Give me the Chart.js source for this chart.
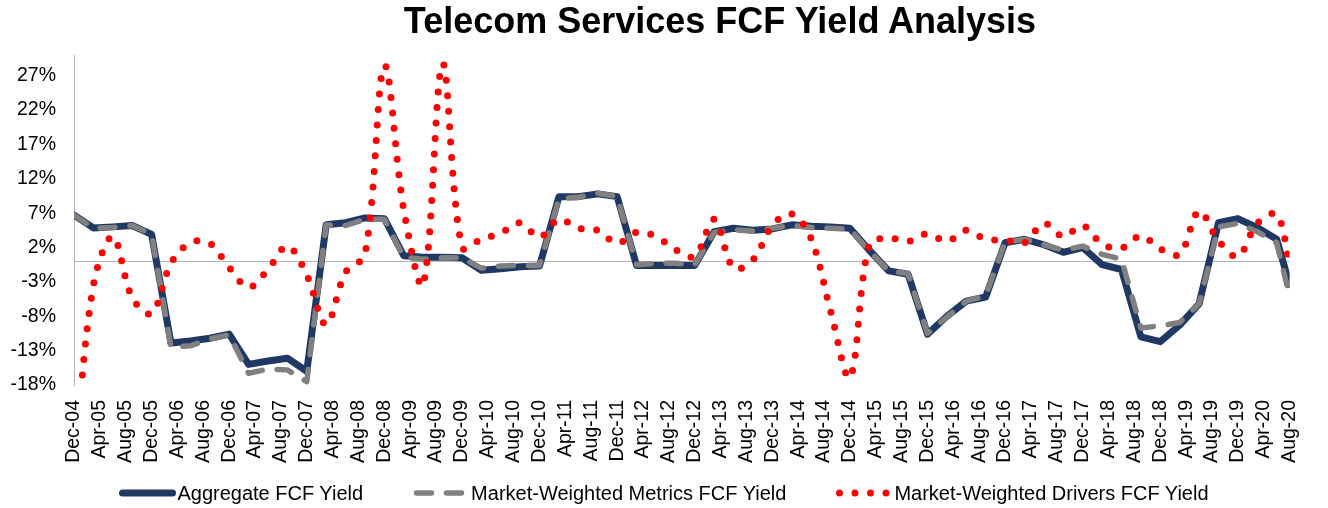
<!DOCTYPE html>
<html>
<head>
<meta charset="utf-8">
<title>Telecom Services FCF Yield Analysis</title>
<script src="https://cdn.jsdelivr.net/npm/chart.js@4.4.1/dist/chart.umd.min.js"></script>
<style>
  body { margin: 0; background: #fff; font-family: "Liberation Sans", Arial, sans-serif; }
  #wrap { position: relative; width: 1328px; height: 508px; }
  #title { position: absolute; top: 3px; left: 116px; width: 1208px; text-align: center; font-weight: bold; font-size: 36px; line-height: 36px; color: #000; }
  #legend { position: absolute; top: 483px; left: 0; width: 1328px; display: flex; justify-content: center; align-items: center; font-size: 20px; line-height: 20px; color: #000; }
  .item { display: flex; align-items: center; margin: 0 25px; white-space: nowrap; }
  .item svg { margin-right: 1px; }
</style>
</head>
<body>
<div id="wrap">
  <canvas id="fcfChart" width="1328" height="508"></canvas>
  <div id="title">Telecom Services FCF Yield Analysis</div>
  <div id="legend"></div>
</div>
<script>
// Quarter-end observation dates (the last one is the latest month available).
const quarters = [
    "Dec-04",
    "Mar-05", "Jun-05", "Sep-05", "Dec-05", "Mar-06", "Jun-06", "Sep-06", "Dec-06",
    "Mar-07", "Jun-07", "Sep-07", "Dec-07", "Mar-08", "Jun-08", "Sep-08", "Dec-08",
    "Mar-09", "Jun-09", "Sep-09", "Dec-09", "Mar-10", "Jun-10", "Sep-10", "Dec-10",
    "Mar-11", "Jun-11", "Sep-11", "Dec-11", "Mar-12", "Jun-12", "Sep-12", "Dec-12",
    "Mar-13", "Jun-13", "Sep-13", "Dec-13", "Mar-14", "Jun-14", "Sep-14", "Dec-14",
    "Mar-15", "Jun-15", "Sep-15", "Dec-15", "Mar-16", "Jun-16", "Sep-16", "Dec-16",
    "Mar-17", "Jun-17", "Sep-17", "Dec-17", "Mar-18", "Jun-18", "Sep-18", "Dec-18",
    "Mar-19", "Jun-19", "Sep-19", "Dec-19", "Mar-20", "Jun-20", "Aug-20"
];

// Axis labels, every four months.
const tickLabels = [
    "Dec-04", "Apr-05", "Aug-05", "Dec-05", "Apr-06", "Aug-06", "Dec-06", "Apr-07",
    "Aug-07", "Dec-07", "Apr-08", "Aug-08", "Dec-08", "Apr-09", "Aug-09", "Dec-09",
    "Apr-10", "Aug-10", "Dec-10", "Apr-11", "Aug-11", "Dec-11", "Apr-12", "Aug-12",
    "Dec-12", "Apr-13", "Aug-13", "Dec-13", "Apr-14", "Aug-14", "Dec-14", "Apr-15",
    "Aug-15", "Dec-15", "Apr-16", "Aug-16", "Dec-16", "Apr-17", "Aug-17", "Dec-17",
    "Apr-18", "Aug-18", "Dec-18", "Apr-19", "Aug-19", "Dec-19", "Apr-20", "Aug-20"
];

// FCF yields in percent, one value per quarter above.
const aggregateYield = [
    6.7, 4.85, 5.0, 5.2, 3.9, -11.9, -11.6, -11.2, -10.6, -15.0, -14.5, -14.1, -16.0,
    5.3, 5.6, 6.3, 6.2, 0.8, 0.6, 0.6, 0.5, -1.3, -1.1, -0.8, -0.7, 9.4, 9.4, 9.8, 9.4,
    -0.6, -0.6, -0.6, -0.6, 4.3, 4.8, 4.5, 4.7, 5.3, 5.1, 5.0, 4.8, 1.6, -1.4, -1.9, -10.6,
    -8.0, -5.8, -5.2, 2.7, 3.2, 2.4, 1.3, 2.0, -0.5, -1.2, -11.0, -11.7, -9.3, -6.2,
    5.6, 6.2, 4.9, 3.2, -3.4
];
const metricsYield = [
    6.7, 4.8, 4.9, 5.2, 3.9, -12.5, -12.3, -11.3, -10.7, -16.3, -15.7, -15.8, -17.5,
    5.3, 5.2, 6.1, 6.1, 0.6, 0.3, 0.5, 0.5, -1.0, -0.7, -0.6, -0.6, 9.1, 9.3, 9.9, 9.4,
    -0.5, -0.3, -0.3, -0.5, 4.2, 4.6, 4.4, 4.8, 5.2, 4.9, 4.8, 4.7, 1.5, -1.4, -1.8, -10.5,
    -8.1, -5.8, -5.0, 2.8, 3.2, 2.4, 1.6, 2.2, 1.0, 0.3, -9.7, -9.4, -8.9, -6.2,
    5.0, 5.5, 4.3, 2.7, -5.1
];
const driversYield = [
    -30, -3.5, 3.6, -5.3, -7.6, -0.3, 2.7, 2.6, -0.9, -3.8, -1.2, 2.2, -2.0,
    -9.2, -1.6, 1.0, 28.4, 7.5, -3.4, 28.7, 2.0, 3.2, 4.1, 5.6, 3.5, 6.1, 4.8, 4.5, 2.6,
    4.2, 3.6, 1.7, 0.7, 6.1, -1.0, 0.2, 5.2, 6.9, 3.3, -7.2, -16.9, 2.4, 3.4, 2.9, 4.0,
    2.9, 4.5, 3.2, 3.1, 2.7, 5.5, 3.6, 5.2, 2.5, 1.9, 3.7, 1.8, 1.0, 7.3, 3.0, 0.7,
    5.5, 6.8, -0.5
];

const yTicks = [-18, -13, -8, -3, 2, 7, 12, 17, 22, 27];

const monthNames = ["Jan", "Feb", "Mar", "Apr", "May", "Jun", "Jul", "Aug", "Sep", "Oct", "Nov", "Dec"];

// Turn "Mon-YY" into a month count so the x axis can be a plain linear scale.
function monthNumber(label) {
    const [mon, yy] = label.split('-');
    return (2000 + Number(yy)) * 12 + monthNames.indexOf(mon);
}
const firstMonth = monthNumber(quarters[0]);
const monthOffset = (label) => monthNumber(label) - firstMonth;
const tickByMonth = {};
tickLabels.forEach((l) => tickByMonth[monthOffset(l)] = l);

const toPoints = (values) => values.map((v, i) => ({ x: monthOffset(quarters[i]), y: v }));

// Thin grey line along 0%.
const zeroLine = {
    id: 'zeroLine',
    beforeDatasetsDraw(chart) {
        const { ctx, chartArea, scales: { y } } = chart;
        const py = Math.round(y.getPixelForValue(0)) + 0.5;
        ctx.save();
        ctx.strokeStyle = '#B4B4B4';
        ctx.lineWidth = 1;
        ctx.beginPath();
        ctx.moveTo(chartArea.left, py);
        ctx.lineTo(chartArea.right, py);
        ctx.stroke();
        ctx.restore();
    }
};

Chart.defaults.font.family = '"Liberation Sans", Arial, sans-serif';
Chart.defaults.color = '#000';

const chart = new Chart(document.getElementById('fcfChart'), {
    type: 'line',
    data: {
        datasets: [
            {
                label: 'Aggregate FCF Yield',
                data: toPoints(aggregateYield),
                borderColor: '#1F3864',
                borderWidth: 7,
                borderJoinStyle: 'round',
                borderCapStyle: 'round',
                pointRadius: 0,
                tension: 0,
                order: 3
            },
            {
                label: 'Market-Weighted Metrics FCF Yield',
                data: toPoints(metricsYield),
                borderColor: '#808080',
                borderWidth: 5.5,
                borderDash: [15, 15],
                borderJoinStyle: 'round',
                borderCapStyle: 'round',
                pointRadius: 0,
                tension: 0,
                order: 2
            },
            {
                label: 'Market-Weighted Drivers FCF Yield',
                data: toPoints(driversYield),
                borderColor: '#FF0000',
                borderWidth: 7,
                borderDash: [0, 15.5],
                borderCapStyle: 'round',
                pointRadius: 0,
                tension: 0.35,
                order: 1
            }
        ]
    },
    options: {
        responsive: false,
        animation: false,
        layout: { padding: { top: 55, right: 23, left: 0, bottom: 0 } },
        plugins: {
            legend: { display: false },
            tooltip: { enabled: false }
        },
        scales: {
            x: {
                type: 'linear',
                min: 0,
                max: monthOffset(quarters[quarters.length - 1]),
                afterBuildTicks: (scale) => { scale.ticks = tickLabels.map((l) => ({ value: monthOffset(l) })); },
                afterFit: (scale) => { scale.height = 123; },
                grid: { display: false, drawTicks: false },
                border: { display: false },
                ticks: {
                    autoSkip: false,
                    minRotation: 90,
                    maxRotation: 90,
                    padding: 15,
                    font: { size: 19.5 },
                    callback: (v) => tickByMonth[v]
                }
            },
            y: {
                min: -18,
                max: 30,
                afterBuildTicks: (scale) => { scale.ticks = yTicks.map((v) => ({ value: v })); },
                afterFit: (scale) => { scale.width = 74; },
                grid: { display: false, drawTicks: false },
                border: { display: true, color: '#B4B4B4', width: 1 },
                ticks: {
                    padding: 18,
                    font: { size: 19.5 },
                    callback: (v) => v + '%'
                }
            }
        }
    },
    plugins: [zeroLine]
});

// Legend below the chart, built from the dataset styles.
const legend = document.getElementById('legend');
chart.data.datasets.forEach((ds) => {
    const item = document.createElement('div');
    item.className = 'item';
    const dash = (ds.borderDash || []).join(' ');
    item.innerHTML =
        `<svg width="57" height="10"><line x1="3.5" y1="5" x2="53.5" y2="5" stroke="${ds.borderColor}" ` +
        `stroke-width="${ds.borderWidth}" stroke-linecap="round" stroke-dasharray="${dash}"/></svg>` +
        `<span>${ds.label}</span>`;
    legend.appendChild(item);
});
</script>
</body>
</html>
